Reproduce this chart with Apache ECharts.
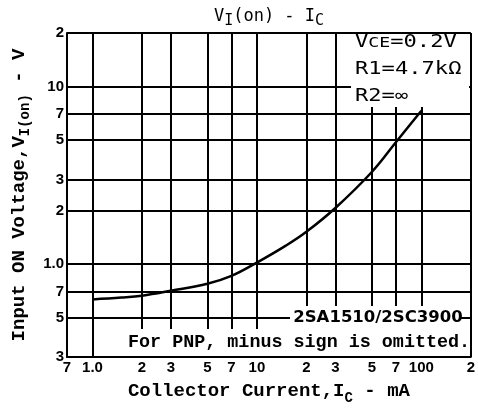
<!DOCTYPE html>
<html><head><meta charset="utf-8">
<script src="https://cdn.jsdelivr.net/npm/echarts@6/dist/echarts.min.js"></script>
<style>html,body{margin:0;padding:0;background:#fff}#c{width:478px;height:410px}</style>
</head><body><div id="c"></div>
<script>
// Curve: Input ON voltage vs collector current (log-log)
const currentMA = [1, 1.5, 2, 3, 5, 7, 10, 15, 20, 30, 50, 70, 100];
const inputOnV  = [0.633, 0.648, 0.664, 0.708, 0.775, 0.858, 1.02, 1.27, 1.52, 2.07, 3.3, 4.85, 7.3];
// Axis ticks / labels
const xTickValues = [0.7, 1, 2, 3, 5, 7, 10, 20, 30, 50, 70, 100, 200];
const xTickLabels = ['7', '1.0', '2', '3', '5', '7', '10', '2', '3', '5', '7', '100', '2'];
const yTickValues = [0.3, 0.5, 0.7, 1, 2, 3, 5, 7, 10, 20];
const yTickLabels = ['3', '5', '7', '1.0', '2', '3', '5', '7', '10', '2'];
const conditionLines = ['V{s|CE}=0.2V', 'R1=4.7kΩ', 'R2=∞'];
const partLabel = '2SA1510/2SC3900';
const noteLabel = 'For PNP, minus sign is omitted.';

function labelFor(values, labels) {
  return function (v) {
    let best = 0, bd = Infinity;
    for (let i = 0; i < values.length; i++) {
      const d = Math.abs(Math.log(v) - Math.log(values[i]));
      if (d < bd) { bd = d; best = i; }
    }
    return labels[best];
  };
}

const chart = echarts.init(document.getElementById('c'), null, {renderer: 'canvas'});
const subStyle = {fontFamily: 'Liberation Mono', fontWeight: 'bold', fontSize: 14, verticalAlign: 'bottom', lineHeight: 14, padding: [0,0,-4,0]};
chart.setOption({
  animation: false,
  backgroundColor: '#fff',
  grid: {left: 67, right: 7, top: 33, bottom: 53, containLabel: false},
  xAxis: {
    type: 'log', logBase: 10, min: 0.7, max: 200,
    axisLine: {show: true, lineStyle: {color: '#000', width: 2}},
    axisTick: {show: false, customValues: xTickValues},
    splitLine: {show: true, lineStyle: {color: '#000', width: 2}},
    axisLabel: {customValues: xTickValues, formatter: labelFor(xTickValues, xTickLabels),
      fontFamily: 'Liberation Sans', fontWeight: 'bold', fontSize: 15, color: '#000', margin: 3},
    name: 'Collector Current,I{s|C} - mA', nameLocation: 'middle', nameGap: 25,
    nameTextStyle: {fontFamily: 'Liberation Mono', fontWeight: 'bold', fontSize: 19, color: '#000', rich: {s: subStyle}}
  },
  yAxis: {
    type: 'log', logBase: 10, min: 0.3, max: 20,
    axisLine: {show: true, lineStyle: {color: '#000', width: 2}},
    axisTick: {show: false, customValues: yTickValues},
    splitLine: {show: true, lineStyle: {color: '#000', width: 2}},
    axisLabel: {customValues: yTickValues, formatter: labelFor(yTickValues, yTickLabels),
      fontFamily: 'Liberation Sans', fontWeight: 'bold', fontSize: 15, color: '#000', margin: 3},
    name: 'Input ON Voltage,V{s|I(on)} - V', nameLocation: 'middle', nameGap: 36, nameRotate: 90,
    nameTextStyle: {fontFamily: 'Liberation Mono', fontWeight: 'bold', fontSize: 19, color: '#000', rich: {s: subStyle}}
  },
  series: [{
    type: 'line', smooth: 0.4, symbol: 'none',
    data: currentMA.map((x, i) => [x, inputOnV[i]]),
    lineStyle: {color: '#000', width: 2.5}, z: 5
  }],
  graphic: [
    {type: 'text', x: 269, y: 17, z: 100, style: {
      text: 'V{s|I}(on) - I{s|C}', align: 'center', verticalAlign: 'middle',
      font: '17px "DejaVu Sans Mono"', fill: '#000',
      rich: {s: {fontFamily: 'DejaVu Sans Mono', fontSize: 15, verticalAlign: 'bottom', lineHeight: 14, padding: [0,0,-3,0]}}}},
    {type: 'rect', z: 100, shape: {x: 351, y: 34, width: 118, height: 73}, style: {fill: '#fff'}},
    {type: 'text', x: 355, y: 43, z: 101, scaleX: 1.3, style: {text: conditionLines[0], verticalAlign: 'middle',
      font: '17px "DejaVu Sans Mono"', fill: '#000', rich: {s: {fontFamily: 'DejaVu Sans Mono', fontSize: 14}}}},
    {type: 'text', x: 355, y: 70, z: 101, scaleX: 1.3, style: {text: conditionLines[1], verticalAlign: 'middle',
      font: '17px "DejaVu Sans Mono"', fill: '#000'}},
    {type: 'text', x: 355, y: 97, z: 101, scaleX: 1.3, style: {text: conditionLines[2], verticalAlign: 'middle',
      font: '17px "DejaVu Sans Mono"', fill: '#000'}},
    {type: 'rect', z: 100, shape: {x: 290, y: 306, width: 171, height: 23}, style: {fill: '#fff'}},
    {type: 'rect', z: 100, shape: {x: 124, y: 329, width: 345, height: 27}, style: {fill: '#fff'}},
    {type: 'text', x: 378, y: 318, z: 101, style: {text: partLabel, align: 'center', verticalAlign: 'middle',
      font: 'bold 16.5px "DejaVu Sans"', fill: '#000'}},
    {type: 'text', x: 128, y: 342, z: 101, style: {text: noteLabel, align: 'left', verticalAlign: 'middle',
      font: 'bold 18.4px "Liberation Mono"', fill: '#000'}}
  ]
});
</script></body></html>
